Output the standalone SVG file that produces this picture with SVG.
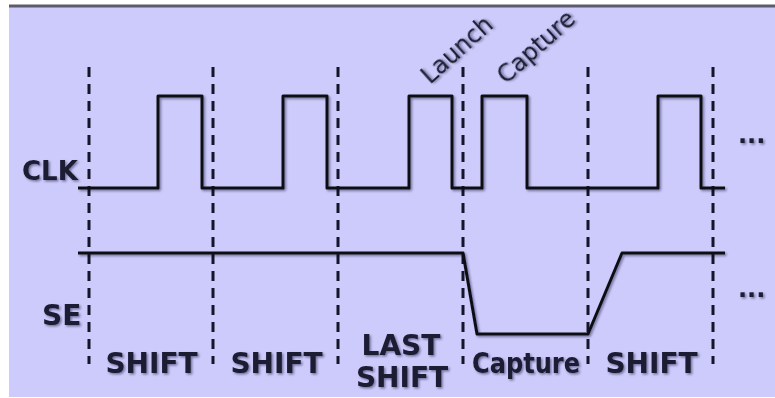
<svg xmlns="http://www.w3.org/2000/svg" width="775" height="398" viewBox="0 0 775 398">
<defs>
<filter id="sh" x="-10%" y="-10%" width="130%" height="130%">
<feDropShadow dx="1.5" dy="1.5" stdDeviation="1.2" flood-color="#10102a" flood-opacity="0.45"/>
</filter>
<style>
.sig{fill:none;stroke:#111118;stroke-width:3;stroke-linejoin:round;filter:url(#sh)}
.grid{stroke:#14142a;stroke-width:3;stroke-dasharray:10 7}
.lbl{font-family:"DejaVu Sans",Verdana,sans-serif;font-weight:bold;fill:#1a1a33;filter:url(#sh)}
.ev{font-family:"DejaVu Sans",Verdana,sans-serif;font-size:24px;fill:#1a1a33;filter:url(#sh)}
</style>
</defs>
<rect x="0" y="0" width="775" height="398" fill="#ffffff"/>
<rect x="9" y="6" width="766" height="391" fill="#cccbfb"/>
<line x1="9" y1="6" x2="775" y2="6" stroke="#5c5c6e" stroke-width="3"/>
<g id="gridlines">
<line class="grid" x1="89" y1="67" x2="89" y2="364"/>
<line class="grid" x1="213" y1="67" x2="213" y2="364"/>
<line class="grid" x1="338" y1="67" x2="338" y2="364"/>
<line class="grid" x1="463" y1="67" x2="463" y2="364"/>
<line class="grid" x1="588" y1="67" x2="588" y2="364"/>
<line class="grid" x1="713" y1="67" x2="713" y2="364"/>
</g>
<g id="clk">
<path class="sig" d="M78,188 H158 V96 H202 V188 H283 V96 H327 V188 H409 V96 H452 V188 H482 V96 H527 V188 H658 V96 H701 V188 H725"/>
<text class="lbl" x="22" y="180" font-size="26">CLK</text>
<text class="lbl" x="738" y="143" font-size="24">...</text>
</g>
<g id="se">
<path class="sig" d="M78,253 H463 L477,334 H588 L622,253 H725"/>
<text class="lbl" x="42" y="325" font-size="28">SE</text>
<text class="lbl" x="738" y="297" font-size="24">...</text>
</g>
<g id="events">
<text class="ev" transform="translate(430,85) rotate(-42)">Launch</text>
<text class="ev" transform="translate(506,85) rotate(-42)">Capture</text>
</g>
<g id="phases">
<text class="lbl" x="151.5" y="373" font-size="28" text-anchor="middle">SHIFT</text>
<text class="lbl" x="276.5" y="373" font-size="28" text-anchor="middle">SHIFT</text>
<text class="lbl" x="401" y="355" font-size="28" text-anchor="middle">LAST</text>
<text class="lbl" x="402" y="387" font-size="28" text-anchor="middle">SHIFT</text>
<text class="lbl" x="526" y="373" font-size="28" text-anchor="middle" textLength="108" lengthAdjust="spacingAndGlyphs">Capture</text>
<text class="lbl" x="651.5" y="373" font-size="28" text-anchor="middle">SHIFT</text>
</g>
</svg>
